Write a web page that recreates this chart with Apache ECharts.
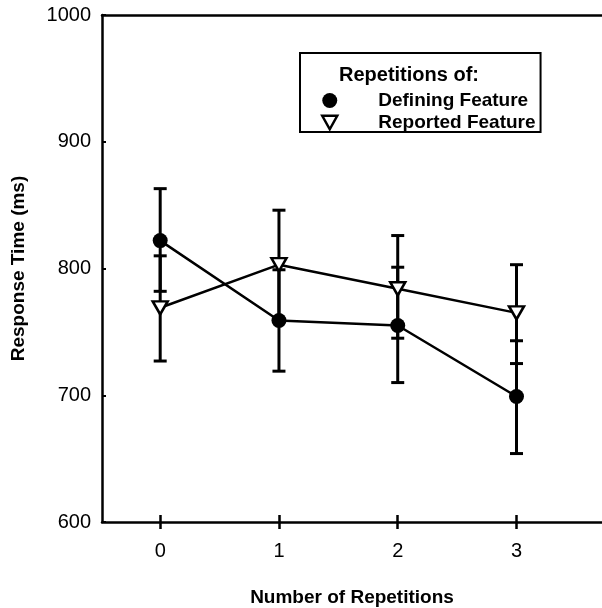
<!DOCTYPE html>
<html>
<head>
<meta charset="utf-8">
<script src="https://cdn.jsdelivr.net/npm/echarts@6/dist/echarts.min.js"></script>
<style>
  html, body { margin: 0; padding: 0; background: #fff; }
  #chart { width: 602px; height: 608px; }
</style>
</head>
<body>
<div id="chart"></div>
<script>
// ---- data ----
var categories = ['0', '1', '2', '3'];
var yTicks = [600, 700, 800, 900, 1000];
var definingMean = [822, 759, 755, 699];
var definingLow  = [782, 719, 710, 654];
var definingHigh = [863, 799, 801, 743];
var reportedMean = [769, 803, 784, 765];
var reportedLow  = [727, 760, 745, 725];
var reportedHigh = [810, 846, 826, 803];
var seriesNames = ['Defining Feature', 'Reported Feature'];
var legendTitle = 'Repetitions of:';

// ---- build ----
var FONT = 'Liberation Sans, Arial, Helvetica, sans-serif';
var catIdx = categories.map(function (c, i) { return i; });

function pts(arr) { return arr.map(function (v, i) { return [i, v]; }); }
function errs(lo, hi) { return lo.map(function (v, i) { return [i, v, hi[i]]; }); }

function errRender(params, api) {
  var x = api.value(0);
  var p1 = api.coord([x, api.value(1)]);
  var p2 = api.coord([x, api.value(2)]);
  var hw = 6.5;
  var st = { stroke: '#000', lineWidth: 3 };
  return {
    type: 'group',
    children: [
      { type: 'line', shape: { x1: p1[0], y1: p1[1], x2: p2[0], y2: p2[1] }, style: st },
      { type: 'line', shape: { x1: p1[0] - hw, y1: p1[1], x2: p1[0] + hw, y2: p1[1] }, style: st },
      { type: 'line', shape: { x1: p2[0] - hw, y1: p2[1], x2: p2[0] + hw, y2: p2[1] }, style: st }
    ]
  };
}

var triDown = 'path://M0,0 L10,0 L5,9 Z';
var xMin = -0.49, xMax = 3.72;
var gridBox = { left: 102, top: 15, right: 0, bottom: 86, containLabel: false, outerBoundsMode: 'none' };

var chart = echarts.init(document.getElementById('chart'));
chart.setOption({
  animation: false,
  backgroundColor: '#fff',
  textStyle: { fontFamily: FONT, color: '#000' },
  grid: [
    Object.assign({}, gridBox),
    Object.assign({}, gridBox)
  ],
  title: {
    text: legendTitle, left: 339, top: 65, padding: 0,
    textStyle: { fontFamily: FONT, fontSize: 20, fontWeight: 'bold', color: '#000' }
  },
  legend: {
    left: 300, top: 53, orient: 'vertical',
    padding: [38, 5, 0, 21],
    borderColor: '#000', borderWidth: 2,
    itemWidth: 15, itemHeight: 15, itemGap: 3,
    selectedMode: false,
    textStyle: { fontFamily: FONT, fontSize: 19, fontWeight: 'bold', color: '#000', padding: [0, 0, 0, 36] },
    data: [
      { name: seriesNames[0], icon: 'circle', itemStyle: { color: '#000', borderWidth: 0 } },
      { name: seriesNames[1], icon: triDown, itemStyle: { color: '#fff', borderColor: '#000', borderWidth: 2.5 } }
    ]
  },
  xAxis: [
    {
      gridIndex: 0, type: 'value', min: xMin, max: xMax, position: 'bottom',
      axisLine: { show: true, onZero: false, lineStyle: { color: '#000', width: 2.5 } },
      axisTick: { show: true, customValues: catIdx, length: 7, inside: false, lineStyle: { color: '#000', width: 2.5 } },
      axisLabel: { show: true, customValues: catIdx, formatter: function (v) { return categories[Math.round(v)]; },
                   fontFamily: FONT, fontSize: 20, color: '#000', margin: 19 },
      splitLine: { show: false },
      name: 'Number of Repetitions', nameLocation: 'middle', nameGap: 66,
      nameTextStyle: { fontFamily: FONT, fontSize: 19, fontWeight: 'bold', color: '#000' }
    },
    {
      gridIndex: 0, type: 'value', min: xMin, max: xMax, position: 'top',
      axisLine: { show: true, onZero: false, lineStyle: { color: '#000', width: 2.5 } },
      axisTick: { show: false }, axisLabel: { show: false }, splitLine: { show: false }
    },
    {
      gridIndex: 1, type: 'value', min: xMin, max: xMax, position: 'bottom',
      axisLine: { show: false, onZero: false },
      axisTick: { show: true, customValues: catIdx, length: 7, inside: true, lineStyle: { color: '#000', width: 2.5 } },
      axisLabel: { show: false }, splitLine: { show: false }
    }
  ],
  yAxis: [
    {
      gridIndex: 0, type: 'value', min: yTicks[0], max: yTicks[yTicks.length - 1], interval: 100,
      axisLine: { show: true, onZero: false, lineStyle: { color: '#000', width: 2.5 } },
      axisTick: { show: true, inside: true, length: 4, lineStyle: { color: '#000', width: 2 } },
      axisLabel: { fontFamily: FONT, fontSize: 20, color: '#000', margin: 11,
                   formatter: function (v) { return String(v); } },
      splitLine: { show: false },
      name: 'Response Time (ms)', nameLocation: 'middle', nameGap: 74,
      nameTextStyle: { fontFamily: FONT, fontSize: 19, fontWeight: 'bold', color: '#000' }
    },
    {
      gridIndex: 1, type: 'value', min: yTicks[0], max: yTicks[yTicks.length - 1],
      show: false
    }
  ],
  series: [
    {
      type: 'custom', name: 'errDef', xAxisIndex: 0, yAxisIndex: 0, z: 2,
      renderItem: errRender, encode: { x: 0, y: [1, 2] }, data: errs(definingLow, definingHigh)
    },
    {
      type: 'custom', name: 'errRep', xAxisIndex: 0, yAxisIndex: 0, z: 2,
      renderItem: errRender, encode: { x: 0, y: [1, 2] }, data: errs(reportedLow, reportedHigh)
    },
    {
      type: 'line', name: seriesNames[0], xAxisIndex: 0, yAxisIndex: 0, z: 5,
      data: pts(definingMean), symbol: 'circle', symbolSize: 15,
      lineStyle: { color: '#000', width: 2.5 },
      itemStyle: { color: '#000', borderWidth: 0 }
    },
    {
      type: 'line', name: seriesNames[1], xAxisIndex: 0, yAxisIndex: 0, z: 5,
      data: pts(reportedMean), symbol: triDown, symbolSize: [15, 13],
      lineStyle: { color: '#000', width: 2.5 },
      itemStyle: { color: '#fff', borderColor: '#000', borderWidth: 2.5 }
    }
  ]
});
</script>
</body>
</html>
